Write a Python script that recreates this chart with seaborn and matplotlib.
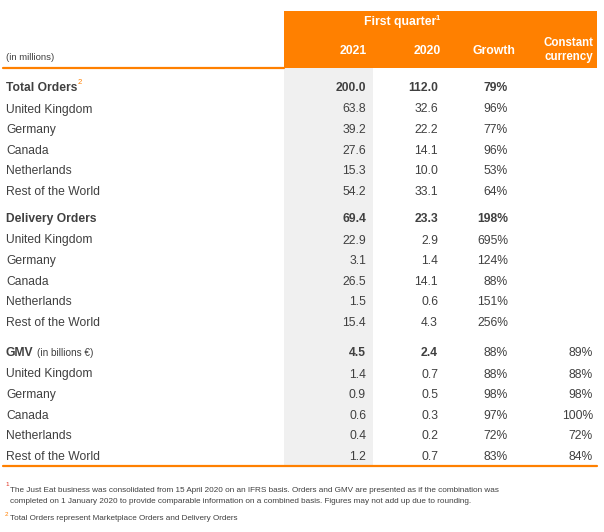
import matplotlib
matplotlib.use("Agg")
import matplotlib.pyplot as plt
import seaborn as sns
from matplotlib.patches import Rectangle

sns.set_theme(style="white")
plt.rcParams['font.family'] = ['Liberation Sans', 'DejaVu Sans']

# ---- data ----
sections = ["Total Orders", "Delivery Orders", "GMV"]
countries = ["United Kingdom", "Germany", "Canada", "Netherlands", "Rest of the World"]
val_2021 = [["200.0", "63.8", "39.2", "27.6", "15.3", "54.2"],
            ["69.4", "22.9", "3.1", "26.5", "1.5", "15.4"],
            ["4.5", "1.4", "0.9", "0.6", "0.4", "1.2"]]
val_2020 = [["112.0", "32.6", "22.2", "14.1", "10.0", "33.1"],
            ["23.3", "2.9", "1.4", "14.1", "0.6", "4.3"],
            ["2.4", "0.7", "0.5", "0.3", "0.2", "0.7"]]
growth = [["79%", "96%", "77%", "96%", "53%", "64%"],
          ["198%", "695%", "124%", "88%", "151%", "256%"],
          ["88%", "88%", "98%", "97%", "72%", "83%"]]
constant = [["", "", "", "", "", ""],
            ["", "", "", "", "", ""],
            ["89%", "88%", "98%", "100%", "72%", "84%"]]
col_headers = ["2021", "2020", "Growth", "Constant\ncurrency"]
footnotes = ["The Just Eat business was consolidated from 15 April 2020 on an IFRS basis. Orders and GMV are presented as if the combination was\ncompleted on 1 January 2020 to provide comparable information on a combined basis. Figures may not add up due to rounding.",
             "Total Orders represent Marketplace Orders and Delivery Orders"]

ORANGE = "#FF8000"
GRAY = "#F0F0F0"
TXT = "#404040"
FS = 8.7

fig = plt.figure(figsize=(6.04, 5.32), dpi=100)
ax = fig.add_axes([0, 0, 1, 1])
ax.set_xlim(0, 604)
ax.set_ylim(532, 0)
ax.axis("off")

# header box and gray column
ax.add_patch(Rectangle((284, 11), 313, 57, color=ORANGE, lw=0, zorder=1))
ax.add_patch(Rectangle((284, 68), 89, 398, color=GRAY, lw=0, zorder=0))
ax.plot([3, 284], [68, 68], color=ORANGE, lw=1.6, zorder=2)
ax.plot([3, 597], [466, 466], color=ORANGE, lw=1.6, zorder=2)

# header texts
ax.text(364, 22, "First quarter", color="white", fontsize=8.8, fontweight="bold", ha="left", va="center")
ax.text(436, 18, "1", color="white", fontsize=5.5, fontweight="bold", ha="left", va="center")
ax.text(367, 51, col_headers[0], color="white", fontsize=8.8, fontweight="bold", ha="right", va="center")
ax.text(441, 51, col_headers[1], color="white", fontsize=8.8, fontweight="bold", ha="right", va="center")
ax.text(494, 51, col_headers[2], color="white", fontsize=8.8, fontweight="bold", ha="center", va="center")
ax.text(569, 50, col_headers[3], color="white", fontsize=8.3, fontweight="bold", ha="center", va="center", linespacing=1.25)
ax.text(6, 57, "(in millions)", color=TXT, fontsize=6.8, ha="left", va="center")

# body
section_y = [88, 219, 353]
step = 20.6
for s, name in enumerate(sections):
    y0 = section_y[s]
    ys = [y0] + [y0 + 21.5 + step * i for i in range(len(countries))]
    for r in range(6):
        y = ys[r]
        fw = "bold" if r == 0 else "normal"
        if r == 0:
            if name == "GMV":
                ax.text(6, y, "GMV", color=TXT, fontsize=FS, fontweight="bold", ha="left", va="center")
                ax.text(37, y, "(in billions €)", color=TXT, fontsize=7.2, ha="left", va="center")
            else:
                ax.text(6, y, name, color=TXT, fontsize=FS, fontweight="bold", ha="left", va="center")
                if name == "Total Orders":
                    ax.text(78, y - 5, "2", color=ORANGE, fontsize=5.5, ha="left", va="center")
        else:
            ax.text(6, y, countries[r - 1], color=TXT, fontsize=FS, ha="left", va="center")
        ax.text(366, y, val_2021[s][r], color=TXT, fontsize=FS, fontweight=fw, ha="right", va="center")
        ax.text(438, y, val_2020[s][r], color=TXT, fontsize=FS, fontweight=fw, ha="right", va="center")
        gfw = fw if name != "GMV" else "normal"
        ax.text(508, y, growth[s][r], color=TXT, fontsize=FS, fontweight=gfw, ha="right", va="center")
        ax.text(593, y, constant[s][r], color=TXT, fontsize=FS, ha="right", va="center")

# footnotes
ax.text(5, 485, "1", color="#E03020", fontsize=4.5, ha="left", va="center")
ax.text(10, 496, footnotes[0], color=TXT, fontsize=5.85, ha="left", va="center", linespacing=1.75)
ax.text(5, 514, "2", color=ORANGE, fontsize=4.5, ha="left", va="center")
ax.text(10, 519, footnotes[1], color=TXT, fontsize=5.85, ha="left", va="center")

fig.savefig("out.png", dpi=100, facecolor="white")
